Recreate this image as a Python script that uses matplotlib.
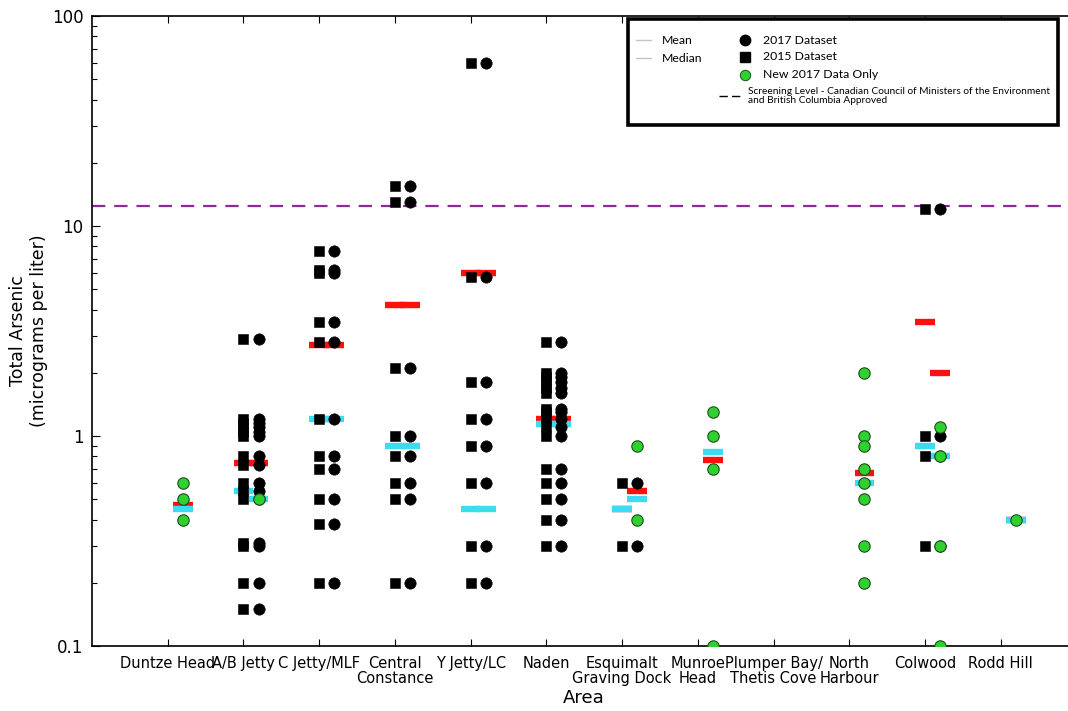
import matplotlib
matplotlib.use("Agg")
import matplotlib.pyplot as plt
from matplotlib.patches import Rectangle
from matplotlib.ticker import LogLocator, NullFormatter

LABEL_FONT = ["DejaVu Sans"]
LEGEND_FONT = ["Lato", "DejaVu Sans"]

# Sampling areas (x-axis categories)
areas = ["Duntze Head", "A/B Jetty", "C Jetty/MLF", "Central\nConstance", "Y Jetty/LC",
         "Naden", "Esquimalt\nGraving Dock", "Munroe\nHead", "Plumper Bay/\nThetis Cove",
         "North\nHarbour", "Colwood", "Rodd Hill"]

# Total arsenic (ug/L), 2015 sampling results; these are carried into the 2017 dataset
arsenic_2015 = [
    [],
    [2.9, 1.2, 1.15, 1.1, 1.05, 1.0, 0.8, 0.73, 0.6, 0.55, 0.5, 0.31, 0.3, 0.2, 0.15],
    [7.6, 6.2, 6.0, 3.5, 2.8, 1.2, 0.8, 0.7, 0.5, 0.38, 0.2],
    [15.5, 13.0, 2.1, 1.0, 0.8, 0.6, 0.5, 0.2],
    [60.0, 5.7, 1.8, 1.2, 0.9, 0.6, 0.3, 0.2],
    [2.8, 2.0, 1.9, 1.8, 1.7, 1.6, 1.35, 1.3, 1.2, 1.1, 1.0, 0.7, 0.6, 0.5, 0.4, 0.3],
    [0.6, 0.3],
    [],
    [],
    [],
    [12.0, 1.0, 0.8, 0.3],
    [],
]

# New results collected in 2017 only
arsenic_2017_new = [
    [0.6, 0.5, 0.4],
    [0.5],
    [],
    [],
    [],
    [],
    [0.9, 0.4],
    [1.3, 1.0, 0.7, 0.1],
    [],
    [2.0, 1.0, 0.9, 0.7, 0.6, 0.5, 0.3, 0.2],
    [1.1, 0.8, 0.3, 0.1],
    [0.4],
]

# Summary statistics per area and dataset (None = no data)
mean_2015 = [None, 0.74, 2.72, 4.2, 6.0, 1.21, 0.45, None, None, None, 3.5, None]
median_2015 = [None, 0.55, 1.2, 0.9, 0.45, 1.14, 0.45, None, None, None, 0.9, None]
mean_2017 = [0.47, 0.74, 2.72, 4.2, 6.0, 1.21, 0.55, 0.77, None, 0.67, 2.0, 0.4]
median_2017 = [0.45, 0.5, 1.2, 0.9, 0.45, 1.14, 0.5, 0.84, None, 0.6, 0.8, 0.4]

screening_level = 12.5
ytick_values = [0.1, 1, 10, 100]
ytick_labels = ["0.1", "1", "10", "100"]

RED = "#ff1010"
CYAN = "#3cdcf0"
GREEN = "#2fd12f"
PURPLE = "#8a2b96"

fig = plt.figure(figsize=(10.68, 7.11), dpi=100)
AX_L, AX_B, AX_W, AX_H = 92, 65, 984.4, 630
ax = fig.add_axes([AX_L / 1068, AX_B / 711, AX_W / 1068, AX_H / 711])
ax.set_yscale("log")
ax.set_xlim(-1, 12)
ax.set_ylim(0.1, 100)

OFF = 0.2      # 2017 column offset from the 2015 column
HALF = 0.13    # half-width of the mean/median bars

# Screening level
ax.axhline(screening_level, color=PURPLE, lw=1.6, dashes=(6, 4), zorder=1)

# Mean (red) and median (cyan) bars
for i in range(len(areas)):
    for x, m, md in ((i, mean_2015[i], median_2015[i]), (i + OFF, mean_2017[i], median_2017[i])):
        if m is not None:
            ax.hlines(m, x - HALF, x + HALF, colors=RED, lw=4.6, capstyle="butt", zorder=2)
        if md is not None:
            ax.hlines(md, x - HALF, x + HALF, colors=CYAN, lw=4.6, capstyle="butt", zorder=2.1)

# Data points
for i in range(len(areas)):
    v15 = arsenic_2015[i]
    vnew = arsenic_2017_new[i]
    if v15:
        ax.plot([i] * len(v15), v15, ls="none", marker="s", ms=7.4, mew=0.4,
                color="black", zorder=3)
        ax.plot([i + OFF] * len(v15), v15, ls="none", marker="o", ms=8.2, mew=0.4,
                color="black", zorder=3)
    if vnew:
        ax.plot([i + OFF] * len(vnew), vnew, ls="none", marker="o", ms=8.2,
                mfc=GREEN, mec="#1d4d1d", mew=0.8, zorder=4)

# Axes styling
ax.set_xticks(range(len(areas)))
ax.set_xticklabels(areas, family=LABEL_FONT, fontsize=10.5, linespacing=1.05)
ax.set_yticks(ytick_values)
ax.set_yticklabels(ytick_labels, fontsize=12)
ax.yaxis.set_minor_locator(LogLocator(base=10, subs=range(2, 10)))
ax.yaxis.set_minor_formatter(NullFormatter())
ax.tick_params(axis="both", which="both", direction="in", top=True, right=False, width=0.8)
ax.tick_params(axis="y", which="major", length=6, pad=6)
ax.tick_params(axis="y", which="minor", length=3.5)
ax.tick_params(axis="x", which="major", length=5, pad=7)
ax.tick_params(axis="x", which="minor", bottom=False, top=False)
for s in ax.spines.values():
    s.set_linewidth(1.2)

ax.set_xlabel("Area", family=LABEL_FONT, fontsize=13, labelpad=2)
ax.set_ylabel("Total Arsenic\n(micrograms per liter)", family=LABEL_FONT, fontsize=12.5,
              labelpad=3, linespacing=1.2)


# Legend drawn at fixed positions inside the axes frame
def axpos(px, py):
    return ((px - AX_L) / AX_W, (711 - AX_B - py) / AX_H)


T = dict(transform=ax.transAxes, clip_on=False, zorder=10)
x0, y1 = axpos(628, 125)
x1, y0 = axpos(1058, 19)
ax.add_patch(Rectangle((x0, y1), x1 - x0, y0 - y1, facecolor="white", edgecolor="black",
                       lw=2.6, **T))

for py, lab in ((40, "Mean"), (58, "Median")):
    a, b = axpos(636, py)
    c, _ = axpos(651, py)
    ax.plot([a, c], [b, b], color="#c4c4c4", lw=1.0, **T)
    tx, ty = axpos(662, py)
    ax.text(tx, ty, lab, family=LEGEND_FONT, fontsize=8.8, va="center", ha="left", **T)

hx, _ = axpos(745, 0)
tx, _ = axpos(763, 0)
_, ya = axpos(0, 40)
ax.plot([hx], [ya], marker="o", ms=7.5, color="black", ls="none", **T)
ax.text(tx, ya, "2017 Dataset", family=LEGEND_FONT, fontsize=8.8, va="center", **T)
_, yb = axpos(0, 57)
ax.plot([hx], [yb], marker="s", ms=7, color="black", ls="none", **T)
ax.text(tx, yb, "2015 Dataset", family=LEGEND_FONT, fontsize=8.8, va="center", **T)
_, yc = axpos(0, 75)
ax.plot([hx], [yc], marker="o", ms=7.5, mfc=GREEN, mec="#1d4d1d", mew=0.7, ls="none", **T)
ax.text(tx, yc, "New 2017 Data Only", family=LEGEND_FONT, fontsize=8.8, va="center", **T)
a, yd = axpos(719, 96)
c, _ = axpos(742, 96)
ax.plot([a, c], [yd, yd], color="black", lw=1.0, dashes=(6, 3), **T)
sx, _ = axpos(748, 0)
ax.text(sx, yd, "Screening Level - Canadian Council of Ministers of the Environment\n"
        "and British Columbia Approved", family=LEGEND_FONT, fontsize=7.3, va="center",
        linespacing=1.1, **T)

fig.savefig("out.png", dpi=100)
